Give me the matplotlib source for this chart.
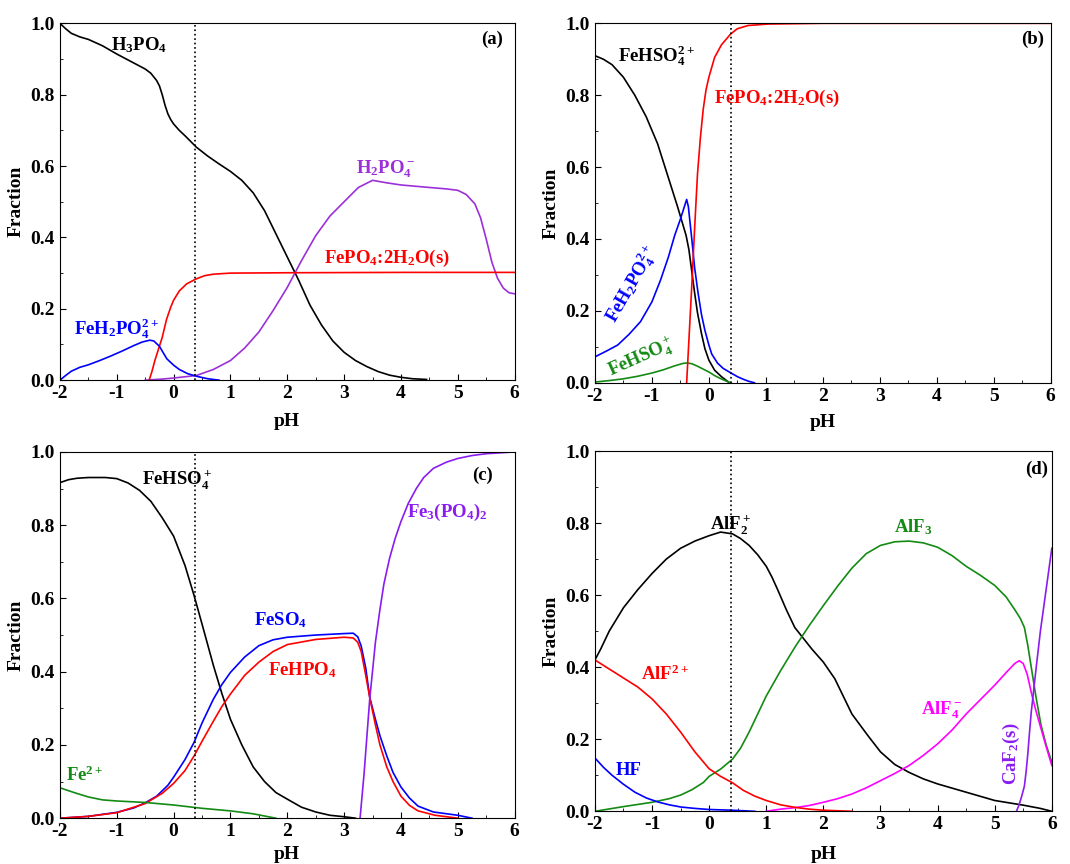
import matplotlib
import numpy as np

matplotlib.use("Agg")
import matplotlib.pyplot as plt
from matplotlib.ticker import MultipleLocator

plt.rcParams["font.family"] = "Liberation Serif"
plt.rcParams["font.weight"] = "bold"
plt.rcParams["mathtext.fontset"] = "custom"
plt.rcParams["mathtext.rm"] = "Liberation Serif:bold"
plt.rcParams["mathtext.it"] = "Liberation Serif:bold"
plt.rcParams["mathtext.bf"] = "Liberation Serif:bold"
plt.rcParams["mathtext.default"] = "rm"

PH_LINE = 0.38

# ---- panel (a) ----
a_h3po4_x = [-2.0, -1.9, -1.8, -1.65, -1.5, -1.25, -1.0, -0.75, -0.5, -0.4, -0.3, -0.25,
             -0.2, -0.15, -0.1, -0.05, 0.0, 0.1, 0.2, 0.4, 0.6, 0.8, 1.0, 1.2, 1.4, 1.6,
             1.8, 2.0, 2.2, 2.4, 2.6, 2.8, 3.0, 3.2, 3.4, 3.6, 3.8, 4.0, 4.2, 4.45]
a_h3po4_y = [1.0, 0.985, 0.972, 0.962, 0.955, 0.937, 0.914, 0.893, 0.872, 0.86, 0.84, 0.825,
             0.80, 0.77, 0.746, 0.73, 0.718, 0.70, 0.685, 0.653, 0.628, 0.606, 0.585, 0.56,
             0.525, 0.475, 0.41, 0.345, 0.28, 0.21, 0.155, 0.11, 0.078, 0.055, 0.038, 0.024,
             0.014, 0.008, 0.004, 0.002]
a_h2po4_x = [-0.5, -0.2, 0.0, 0.4, 0.7, 1.0, 1.25, 1.5, 1.75, 2.0, 2.25, 2.5, 2.75, 3.0,
             3.25, 3.5, 3.75, 4.0, 4.5, 4.8, 5.0, 5.15, 5.3, 5.4, 5.5, 5.6, 5.7, 5.8, 5.9, 6.0]
a_h2po4_y = [0.0, 0.003, 0.006, 0.013, 0.03, 0.055, 0.09, 0.135, 0.195, 0.26, 0.335, 0.405,
             0.46, 0.50, 0.54, 0.56, 0.553, 0.547, 0.54, 0.536, 0.532, 0.52, 0.494, 0.455,
             0.395, 0.33, 0.285, 0.258, 0.245, 0.242]
a_fepo4_x = [-0.43, -0.38, -0.33, -0.28, -0.2, -0.125, -0.05, 0.0, 0.1, 0.23, 0.4, 0.55,
             0.7, 1.0, 2.0, 4.0, 6.0]
a_fepo4_y = [0.0, 0.025, 0.055, 0.08, 0.12, 0.17, 0.205, 0.224, 0.25, 0.27, 0.284, 0.293,
             0.297, 0.30, 0.301, 0.302, 0.302]
a_feh2po4_x = [-2.0, -1.9, -1.8, -1.65, -1.5, -1.3, -1.1, -0.9, -0.7, -0.55, -0.42, -0.35,
               -0.25, -0.12, 0.0, 0.1, 0.25, 0.4, 0.6, 0.8]
a_feh2po4_y = [0.0, 0.013, 0.025, 0.036, 0.043, 0.055, 0.068, 0.082, 0.097, 0.107, 0.112,
               0.11, 0.095, 0.06, 0.042, 0.03, 0.018, 0.011, 0.004, 0.0]

# ---- panel (b) ----
b_fehso4_x = [-2.0, -1.85, -1.7, -1.5, -1.3, -1.1, -0.9, -0.7, -0.55, -0.4, -0.35, -0.3,
              -0.25, -0.2, -0.13, -0.07, 0.0, 0.1, 0.22, 0.36]
b_fehso4_y = [0.91, 0.90, 0.885, 0.85, 0.80, 0.74, 0.665, 0.565, 0.49, 0.41, 0.37, 0.31,
              0.25, 0.195, 0.137, 0.095, 0.063, 0.035, 0.017, 0.0]
b_feh2po4_x = [-2.0, -1.8, -1.6, -1.4, -1.2, -1.0, -0.85, -0.71, -0.6, -0.5, -0.43, -0.39,
               -0.36, -0.3, -0.25, -0.19, -0.13, -0.07, 0.0, 0.05, 0.15, 0.25, 0.38, 0.5,
               0.6, 0.7, 0.8]
b_feh2po4_y = [0.072, 0.088, 0.105, 0.135, 0.17, 0.225, 0.285, 0.35, 0.41, 0.455, 0.49, 0.51,
               0.49, 0.40, 0.32, 0.25, 0.19, 0.146, 0.105, 0.08, 0.055, 0.04, 0.028, 0.017,
               0.01, 0.004, 0.0]
b_fehso4p_x = [-2.0, -1.75, -1.5, -1.25, -1.0, -0.8, -0.6, -0.45, -0.38, -0.3, -0.2, -0.1,
               0.0, 0.1, 0.2, 0.3, 0.38]
b_fehso4p_y = [0.002, 0.006, 0.011, 0.018, 0.027, 0.036, 0.047, 0.054, 0.055, 0.053, 0.046,
               0.038, 0.03, 0.02, 0.012, 0.005, 0.0]
b_fepo4_x = [-0.39, -0.35, -0.3, -0.25, -0.2, -0.15, -0.1, -0.05, 0.0, 0.1, 0.22, 0.38, 0.5,
             0.69, 1.04, 2.0, 6.0]
b_fepo4_y = [0.0, 0.12, 0.27, 0.43, 0.58, 0.68, 0.76, 0.815, 0.85, 0.905, 0.94, 0.97, 0.985,
             0.994, 0.998, 1.0, 1.0]

# ---- panel (c) ----
c_fehso4_x = [-2.0, -1.85, -1.7, -1.5, -1.2, -1.0, -0.8, -0.6, -0.4, -0.2, 0.0, 0.2, 0.36,
              0.5, 0.7, 0.85, 1.0, 1.2, 1.4, 1.6, 1.8, 2.0, 2.25, 2.5, 2.75, 3.0, 3.2]
c_fehso4_y = [0.916, 0.924, 0.928, 0.93, 0.93, 0.927, 0.915, 0.895, 0.865, 0.82, 0.77, 0.69,
              0.608, 0.53, 0.417, 0.34, 0.27, 0.20, 0.14, 0.10, 0.07, 0.052, 0.03, 0.017,
              0.008, 0.004, 0.0]
c_feso4_x = [-2.0, -1.5, -1.0, -0.7, -0.5, -0.3, -0.1, 0.0, 0.2, 0.36, 0.5, 0.7, 0.85, 1.0,
             1.25, 1.5, 1.75, 2.0, 2.5, 3.0, 3.16, 3.24, 3.3, 3.38, 3.45, 3.55, 3.63, 3.75,
             3.86, 4.0, 4.15, 4.3, 4.57, 5.0, 5.25]
c_feso4_y = [0.0, 0.005, 0.016, 0.028, 0.042, 0.06, 0.09, 0.112, 0.16, 0.207, 0.26, 0.325,
             0.365, 0.398, 0.44, 0.471, 0.487, 0.494, 0.50, 0.504, 0.505, 0.495, 0.47, 0.41,
             0.33, 0.27, 0.225, 0.17, 0.125, 0.085, 0.055, 0.033, 0.017, 0.008, 0.0]
c_fehpo4_x = [-2.0, -1.5, -1.0, -0.5, -0.2, 0.0, 0.2, 0.36, 0.5, 0.7, 0.85, 1.0, 1.25, 1.5,
              1.75, 2.0, 2.5, 3.0, 3.16, 3.24, 3.3, 3.38, 3.45, 3.55, 3.63, 3.75, 3.86, 4.0,
              4.15, 4.3, 4.6, 5.0]
c_fehpo4_y = [0.0, 0.005, 0.015, 0.04, 0.068, 0.095, 0.13, 0.17, 0.21, 0.265, 0.305, 0.339,
              0.39, 0.426, 0.455, 0.474, 0.488, 0.494, 0.492, 0.48, 0.455, 0.39, 0.33, 0.255,
              0.20, 0.14, 0.10, 0.06, 0.035, 0.02, 0.008, 0.0]
c_fe2_x = [-2.0, -1.75, -1.5, -1.25, -1.0, -0.5, 0.0, 0.5, 1.0, 1.4, 1.8]
c_fe2_y = [0.083, 0.07, 0.058, 0.05, 0.047, 0.043, 0.036, 0.027, 0.02, 0.012, 0.0]
c_fe3po4_x = [3.28, 3.35, 3.45, 3.55, 3.63, 3.7, 3.8, 3.9, 4.0, 4.13, 4.27, 4.4, 4.57, 4.8,
              5.0, 5.25, 5.5, 6.0]
c_fe3po4_y = [0.0, 0.12, 0.325, 0.48, 0.57, 0.64, 0.71, 0.765, 0.81, 0.86, 0.90, 0.93, 0.955,
              0.972, 0.982, 0.99, 0.995, 1.0]

# ---- panel (d) ----
d_alf2_x = [-2.0, -1.9, -1.75, -1.5, -1.25, -1.0, -0.75, -0.5, -0.25, 0.0, 0.2, 0.41, 0.55,
            0.7, 0.85, 1.0, 1.1, 1.2, 1.35, 1.5, 1.8, 2.0, 2.2, 2.5, 2.78, 3.0, 3.25, 3.5,
            3.75, 4.0, 4.5, 5.0, 5.5, 5.8, 6.0]
d_alf2_y = [0.42, 0.45, 0.50, 0.565, 0.615, 0.66, 0.70, 0.73, 0.75, 0.765, 0.775, 0.77, 0.757,
            0.738, 0.712, 0.68, 0.65, 0.615, 0.56, 0.51, 0.45, 0.414, 0.368, 0.27, 0.21,
            0.165, 0.13, 0.108, 0.09, 0.076, 0.053, 0.03, 0.017, 0.008, 0.0]
d_alf3_x = [-2.0, -1.5, -1.0, -0.7, -0.5, -0.3, -0.1, 0.0, 0.2, 0.41, 0.55, 0.7, 0.85, 1.0,
            1.25, 1.5, 1.75, 2.0, 2.25, 2.5, 2.75, 3.0, 3.25, 3.5, 3.75, 4.0, 4.25, 4.5,
            4.75, 5.0, 5.2, 5.35, 5.45, 5.52, 5.58, 5.64, 5.72, 5.81, 5.9, 6.0]
d_alf3_y = [0.0, 0.013, 0.025, 0.035, 0.045, 0.06, 0.08, 0.097, 0.117, 0.145, 0.175, 0.22,
            0.27, 0.32, 0.39, 0.455, 0.515, 0.571, 0.625, 0.675, 0.715, 0.738, 0.748, 0.75,
            0.745, 0.733, 0.71, 0.68, 0.655, 0.627, 0.595, 0.56, 0.535, 0.51, 0.46, 0.40,
            0.32, 0.24, 0.185, 0.136]
d_alf4_x = [1.0, 1.25, 1.5, 1.75, 2.0, 2.25, 2.5, 2.75, 3.0, 3.25, 3.5, 3.75, 4.0, 4.25, 4.5,
            4.75, 5.0, 5.2, 5.35, 5.43, 5.5, 5.57, 5.64, 5.72, 5.81, 5.9, 6.0]
d_alf4_y = [0.0, 0.006, 0.01, 0.016, 0.025, 0.035, 0.048, 0.065, 0.085, 0.105, 0.127, 0.155,
            0.187, 0.225, 0.27, 0.31, 0.35, 0.385, 0.41, 0.418, 0.41, 0.38, 0.33, 0.28, 0.23,
            0.18, 0.127]
d_caf2_x = [5.38, 5.42, 5.47, 5.52, 5.55, 5.58, 5.61, 5.64, 5.72, 5.8, 5.9, 6.0]
d_caf2_y = [0.0, 0.015, 0.04, 0.07, 0.11, 0.16, 0.22, 0.275, 0.39, 0.50, 0.615, 0.73]
d_alf_x = [-2.0, -1.75, -1.5, -1.25, -1.0, -0.75, -0.5, -0.25, 0.0, 0.2, 0.41, 0.6, 0.8,
           1.0, 1.25, 1.5, 1.75, 2.0, 2.5]
d_alf_y = [0.42, 0.395, 0.37, 0.345, 0.312, 0.27, 0.22, 0.165, 0.118, 0.097, 0.079, 0.058,
           0.042, 0.03, 0.018, 0.011, 0.006, 0.003, 0.0]
d_hf_x = [-2.0, -1.85, -1.7, -1.5, -1.3, -1.1, -0.9, -0.7, -0.5, -0.25, 0.0, 0.4, 0.8]
d_hf_y = [0.148, 0.122, 0.10, 0.075, 0.053, 0.037, 0.026, 0.018, 0.012, 0.008, 0.005, 0.003,
          0.0]

BLACK = "black"
RED = "#ff0000"
BLUE = "#0000ff"
GREEN = "#138a13"
PURPLE = "#9b30d9"
VIOLET = "#8a1cf0"
MAGENTA = "#ff00ff"
FS = 14
LFS = 13.5


def style_axis(ax, tag, tag_pos, xpad):
    ax.set_xlim(-2, 6)
    ax.set_ylim(0, 1)
    ax.xaxis.set_major_locator(MultipleLocator(1))
    ax.xaxis.set_minor_locator(MultipleLocator(0.5))
    ax.yaxis.set_major_locator(MultipleLocator(0.2))
    ax.yaxis.set_minor_locator(MultipleLocator(0.1))
    ax.xaxis.set_major_formatter(lambda v, p: f"{v:.0f}")
    ax.yaxis.set_major_formatter(lambda v, p: f"{v:.1f}")
    ax.tick_params(which="both", direction="in", labelsize=FS)
    ax.tick_params(which="major", length=4)
    ax.tick_params(which="minor", length=2.5)
    ax.set_xlabel("pH", fontsize=FS, fontweight="bold", labelpad=xpad)
    ax.set_ylabel("Fraction", fontsize=FS, fontweight="bold")
    ax.axvline(PH_LINE, color="black", ls=":", lw=1.2)
    ax.text(tag_pos[0], tag_pos[1], tag, transform=ax.transAxes, fontsize=LFS,
            fontweight="bold", ha="center", va="center")


fig = plt.figure(figsize=(10.7, 8.64), dpi=100)
ax_a = fig.add_axes([0.056, 0.560, 0.425, 0.413])
ax_b = fig.add_axes([0.556, 0.557, 0.426, 0.416])
ax_c = fig.add_axes([0.056, 0.053, 0.425, 0.424])
ax_d = fig.add_axes([0.556, 0.061, 0.427, 0.417])

lw = 1.2

# (a)
ax_a.plot(a_h3po4_x, a_h3po4_y, color=BLACK, lw=lw)
ax_a.plot(a_h2po4_x, a_h2po4_y, color=PURPLE, lw=lw)
ax_a.plot(a_fepo4_x, a_fepo4_y, color=RED, lw=lw)
ax_a.plot(a_feh2po4_x, a_feh2po4_y, color=BLUE, lw=lw)
style_axis(ax_a, "(a)", (0.95, 0.955), 8)
ax_a.text(-1.1, 0.94, "H$_3$PO$_4$", color=BLACK, fontsize=LFS, va="center")
ax_a.text(3.2, 0.59, "H$_2$PO$_4^-$", color=PURPLE, fontsize=LFS, va="center")
ax_a.text(2.64, 0.34, "FePO$_4$:2H$_2$O(s)", color=RED, fontsize=LFS, va="center")
ax_a.text(-1.75, 0.145, "FeH$_2$PO$_4^{2+}$", color=BLUE, fontsize=LFS, va="center")

# (b)
ax_b.plot(b_fehso4_x, b_fehso4_y, color=BLACK, lw=lw)
ax_b.plot(b_feh2po4_x, b_feh2po4_y, color=BLUE, lw=lw)
ax_b.plot(b_fehso4p_x, b_fehso4p_y, color=GREEN, lw=lw)
ax_b.plot(b_fepo4_x, b_fepo4_y, color=RED, lw=lw)
style_axis(ax_b, "(b)", (0.96, 0.955), 7)
ax_b.text(-1.59, 0.91, "FeHSO$_4^{2+}$", color=BLACK, fontsize=LFS, va="center")
ax_b.text(0.09, 0.79, "FePO$_4$:2H$_2$O(s)", color=RED, fontsize=LFS, va="center")
ax_b.text(-1.36, 0.276, "FeH$_2$PO$_4^{2+}$", color=BLUE, fontsize=LFS, ha="center",
          va="center", rotation=60)
ax_b.text(-1.18, 0.068, "FeHSO$_4^+$", color=GREEN, fontsize=LFS, ha="center",
          va="center", rotation=24)

# (c)
ax_c.plot(c_fehso4_x, c_fehso4_y, color=BLACK, lw=lw)
ax_c.plot(c_feso4_x, c_feso4_y, color=BLUE, lw=lw)
ax_c.plot(c_fehpo4_x, c_fehpo4_y, color=RED, lw=lw)
ax_c.plot(c_fe2_x, c_fe2_y, color=GREEN, lw=lw)
ax_c.plot(c_fe3po4_x, c_fe3po4_y, color=VIOLET, lw=lw)
style_axis(ax_c, "(c)", (0.93, 0.935), 4)
ax_c.text(-0.55, 0.922, "FeHSO$_4^+$", color=BLACK, fontsize=LFS, va="center")
ax_c.text(4.11, 0.836, "Fe$_3$(PO$_4$)$_2$", color=VIOLET, fontsize=LFS, va="center")
ax_c.text(1.41, 0.54, "FeSO$_4$", color=BLUE, fontsize=LFS, va="center")
ax_c.text(1.66, 0.403, "FeHPO$_4$", color=RED, fontsize=LFS, va="center")
ax_c.text(-1.9, 0.116, "Fe$^{2+}$", color=GREEN, fontsize=LFS, va="center")

# (d)
ax_d.plot(d_alf2_x, d_alf2_y, color=BLACK, lw=lw)
ax_d.plot(d_alf3_x, d_alf3_y, color=GREEN, lw=lw)
ax_d.plot(d_alf4_x, d_alf4_y, color=MAGENTA, lw=lw)
ax_d.plot(d_caf2_x, d_caf2_y, color=VIOLET, lw=lw)
ax_d.plot(d_alf_x, d_alf_y, color=RED, lw=lw)
ax_d.plot(d_hf_x, d_hf_y, color=BLUE, lw=lw)
style_axis(ax_d, "(d)", (0.966, 0.95), 9)
ax_d.text(0.02, 0.794, "AlF$_2^+$", color=BLACK, fontsize=LFS, va="center")
ax_d.text(3.23, 0.79, "AlF$_3$", color=GREEN, fontsize=LFS, va="center")
ax_d.text(-1.2, 0.38, "AlF$^{2+}$", color=RED, fontsize=LFS, va="center")
ax_d.text(3.71, 0.28, "AlF$_4^-$", color=MAGENTA, fontsize=LFS, va="center")
ax_d.text(-1.64, 0.113, "HF", color=BLUE, fontsize=LFS, va="center")
ax_d.text(5.29, 0.16, "CaF$_2$(s)", color=VIOLET, fontsize=LFS, ha="center", va="center",
          rotation=90)

fig.savefig("out.png", dpi=100)
